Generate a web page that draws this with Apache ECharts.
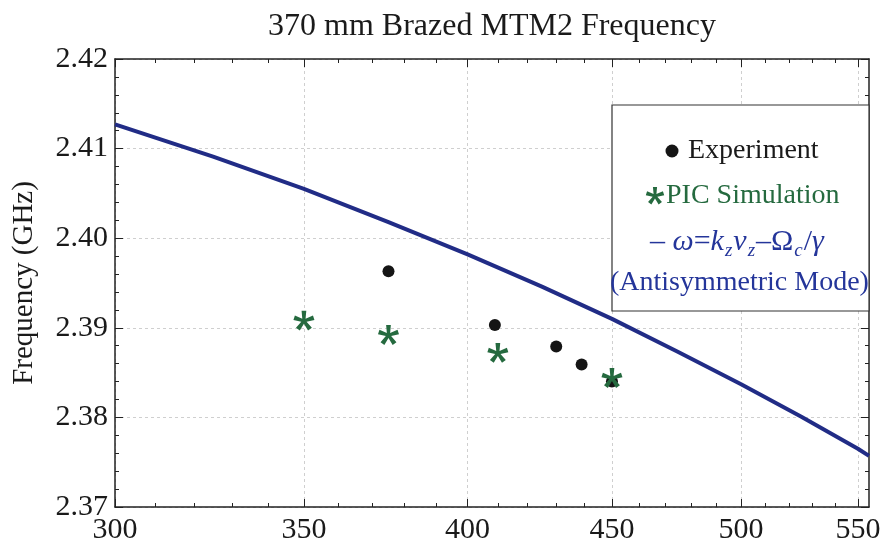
<!DOCTYPE html>
<html>
<head>
<meta charset="utf-8">
<script src="https://cdn.jsdelivr.net/npm/echarts@6/dist/echarts.min.js"></script>
<style>
  html, body { margin: 0; padding: 0; background: #fff; }
  #chart { width: 888px; height: 548px; }
</style>
</head>
<body>
<div id="chart"></div>
<script>
// Measured resonance frequency (experiment)
const expX = [375, 409, 430, 439, 450];
const expY = [2.3963, 2.3903, 2.3879, 2.3859, 2.3840];

// PIC simulation results
const picX = [350, 375, 410, 450];
const picY = [2.3908, 2.3892, 2.3872, 2.3844];

// Dispersion estimate  omega = kz*vz - Omega_c/gamma (antisymmetric mode)
const theoryX = [300, 325, 350, 375, 400, 425, 450, 475, 500, 525, 550, 555];
const theoryY = [2.4127, 2.4091, 2.4055, 2.4018, 2.3982, 2.3946, 2.3910, 2.3873, 2.3837, 2.3801, 2.3765, 2.3757];

// Tick values (x axis is logarithmic)
const xMajorTicks = [300, 350, 400, 450, 500, 550];
const xMinorTicks = [310, 320, 330, 340, 360, 370, 380, 390, 410, 420, 430, 440,
                     460, 470, 480, 490, 510, 520, 530, 540];
const yTicks = [2.37, 2.38, 2.39, 2.40, 2.41, 2.42];

const X_MIN = 300, X_MAX = 555;
const SERIF = '"Liberation Serif", "Times New Roman", serif';
const NAVY = '#212c86';
const GREEN = '#256a3f';
const BLUE_TEXT = '#24359a';
const INK = '#1a1a1a';

const lg = v => Math.log10(v);
const pairs = (xs, ys) => xs.map((x, i) => [lg(x), ys[i]]);

// five-armed asterisk outline of radius r, centred at the origin
function asteriskPoints(r) {
  const pts = [];
  const hw = 0.23, rin = 0.27;
  for (let k = 0; k < 5; k++) {
    const a = (-90 + 72 * k) * Math.PI / 180;
    const dx = Math.cos(a), dy = Math.sin(a);
    const px = -dy, py = dx;
    pts.push([r * (dx - hw * px), r * (dy - hw * py)]);
    pts.push([r * (dx + hw * px), r * (dy + hw * py)]);
    const b = a + 36 * Math.PI / 180;
    pts.push([r * rin * Math.cos(b), r * rin * Math.sin(b)]);
  }
  return pts;
}
const starPath = 'path://' + asteriskPoints(10).map((p, i) =>
  (i ? 'L' : 'M') + (p[0] + 12).toFixed(2) + ' ' + (p[1] + 12).toFixed(2)).join(' ') + ' Z';

const chart = echarts.init(document.getElementById('chart'), null, { renderer: 'canvas' });

const frameLine = { show: true, lineStyle: { color: '#222', width: 1.5 } };
const splitDashed = { show: true, lineStyle: { color: '#cfcfcf', width: 1, type: [3, 3] } };

function xAxisDef(position, values, tickLen, withLabels, withSplit, withLine) {
  return {
    type: 'value',
    position: position,
    min: lg(X_MIN),
    max: lg(X_MAX),
    axisLine: withLine ? frameLine : { show: false },
    axisTick: {
      show: true, inside: true, length: tickLen,
      customValues: values.map(lg),
      lineStyle: { color: '#222', width: 1 }
    },
    axisLabel: withLabels ? {
      show: true,
      customValues: values.map(lg),
      formatter: v => String(Math.round(Math.pow(10, v))),
      fontFamily: SERIF, fontSize: 30, color: INK, margin: 8
    } : { show: false },
    splitLine: withSplit ? splitDashed : { show: false }
  };
}

function yAxisDef(position, withLabels) {
  return {
    type: 'value',
    position: position,
    min: yTicks[0],
    max: yTicks[yTicks.length - 1],
    interval: 0.01,
    name: withLabels ? 'Frequency (GHz)' : '',
    nameLocation: 'middle',
    nameGap: 76,
    nameTextStyle: { fontFamily: SERIF, fontSize: 29, color: INK },
    axisLine: frameLine,
    axisTick: { show: true, inside: true, length: 8, lineStyle: { color: '#222', width: 1 } },
    minorTick: { show: true, splitNumber: 5, length: 4, lineStyle: { color: '#222', width: 1 } },
    axisLabel: withLabels ? {
      show: true, formatter: v => v.toFixed(2),
      fontFamily: SERIF, fontSize: 30, color: INK, margin: 7
    } : { show: false },
    splitLine: withLabels ? splitDashed : { show: false }
  };
}

const legendStar = asteriskPoints(9).map(p => [p[0] + 655, p[1] + 196]);

chart.setOption({
  backgroundColor: '#ffffff',
  animation: false,
  grid: { left: 115, right: 19, top: 59, bottom: 41, containLabel: false, outerBoundsMode: 'none' },
  xAxis: [
    xAxisDef('bottom', xMajorTicks, 8, true, true, true),
    xAxisDef('bottom', xMinorTicks, 4, false, false, false),
    xAxisDef('top', xMajorTicks, 8, false, false, true),
    xAxisDef('top', xMinorTicks, 4, false, false, false)
  ],
  yAxis: [yAxisDef('left', true), yAxisDef('right', false)],
  series: [
    {
      name: 'omega', type: 'line', xAxisIndex: 0, yAxisIndex: 0,
      data: pairs(theoryX, theoryY), showSymbol: false, symbol: 'none',
      lineStyle: { color: NAVY, width: 4 }, z: 3
    },
    {
      name: 'Experiment', type: 'scatter', xAxisIndex: 0, yAxisIndex: 0,
      data: pairs(expX, expY), symbol: 'circle', symbolSize: 12,
      itemStyle: { color: '#151515', opacity: 1 }, z: 4
    },
    {
      name: 'PIC Simulation', type: 'scatter', xAxisIndex: 0, yAxisIndex: 0,
      data: pairs(picX, picY), symbol: starPath, symbolSize: 21, symbolKeepAspect: true,
      itemStyle: { color: GREEN, opacity: 1 }, z: 5
    }
  ],
  graphic: [
    {
      type: 'text', z: 10, x: 492, y: 11,
      style: {
        text: '370 mm Brazed MTM2 Frequency', fontFamily: SERIF, fontSize: 32,
        fill: INK, align: 'center', verticalAlign: 'top'
      }
    },
    {
      type: 'rect', z: 20,
      shape: { x: 612, y: 105, width: 257, height: 206 },
      style: { fill: '#ffffff', stroke: '#333', lineWidth: 1.2 }
    },
    {
      type: 'circle', z: 21,
      shape: { cx: 672, cy: 151, r: 6.5 },
      style: { fill: '#151515' }
    },
    {
      type: 'text', z: 21, x: 688, y: 151,
      style: { text: 'Experiment', fontFamily: SERIF, fontSize: 28, fill: INK, verticalAlign: 'middle' }
    },
    {
      type: 'polygon', z: 21,
      shape: { points: legendStar },
      style: { fill: GREEN }
    },
    {
      type: 'text', z: 21, x: 666, y: 196,
      style: { text: 'PIC Simulation', fontFamily: SERIF, fontSize: 28, fill: GREEN, verticalAlign: 'middle' }
    },
    {
      type: 'text', z: 21, x: 650, y: 242,
      style: {
        text: '{n|– }{i|ω}{n|=}{i|k}{s|z}{i|v}{s|z}{n|–Ω}{s|c}{n|/}{i|γ}',
        fontFamily: SERIF, fontSize: 30, fill: BLUE_TEXT, verticalAlign: 'middle',
        rich: {
          n: { fontFamily: SERIF, fontSize: 30, fill: BLUE_TEXT, color: BLUE_TEXT },
          i: { fontFamily: SERIF, fontSize: 30, fontStyle: 'italic', fill: BLUE_TEXT, color: BLUE_TEXT },
          s: { fontFamily: SERIF, fontSize: 19, fontStyle: 'italic', fill: BLUE_TEXT, color: BLUE_TEXT, padding: [18, 1, 0, 1] }
        }
      }
    },
    {
      type: 'text', z: 21, x: 610, y: 283,
      style: { text: '(Antisymmetric Mode)', fontFamily: SERIF, fontSize: 28, fill: BLUE_TEXT, verticalAlign: 'middle' }
    }
  ]
});
</script>
</body>
</html>
